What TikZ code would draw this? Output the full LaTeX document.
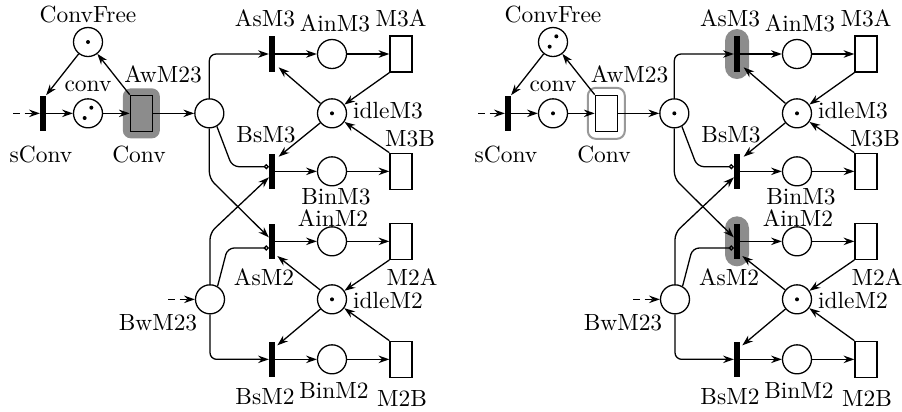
\documentclass[tikz,border=0pt]{standalone}
\usepackage{tikz}
\usetikzlibrary{arrows.meta,positioning,calc}

\begin{document}
\begin{tikzpicture}[
  place/.style={draw=black, circle, minimum size=4.35mm, inner sep=0pt, line width=0.55pt},
  tbar/.style={fill=black, rectangle, minimum width=0.8mm, minimum height=5.3mm, inner sep=0pt},
  tbox/.style={draw=black, rectangle, minimum width=3.3mm, minimum height=5.4mm,
    inner sep=0pt, line width=0.55pt},
  tok1/.style={path picture={\fill (path picture bounding box.center) circle (0.3mm);}},
  tok2/.style={path picture={
    \fill ($(path picture bounding box.center)+(0.05,0.085)$) circle (0.3mm);
    \fill ($(path picture bounding box.center)+(-0.05,-0.07)$) circle (0.3mm);}},
  lbl/.style={inner sep=0pt},
  flow/.style={-{Stealth[length=4.6pt,width=3.2pt]}, line width=0.55pt},
  feed/.style={-{Stealth[length=4.6pt,width=3.2pt]}, line width=0.55pt, densely dashed},
  inh/.style={-{Circle[open,length=2.2pt]}, line width=0.55pt},
  hlfill/.style={fill=black!45, rounded corners=1.2mm, inner sep=0pt},
  hlpill/.style={fill=black!45, rounded corners=1.8mm, inner sep=0pt,
    minimum width=3.6mm, minimum height=7.5mm},
  hlline/.style={draw=black!40, line width=0.85pt, rounded corners=1.2mm, inner sep=0pt},
]
\useasboundingbox (0,0) rectangle (13.53,-6.165);

%==================== KIRI: KONVEYOR ====================
\node[place, tok1] (ConvFree) at (1.32,-0.63) {};
\node[place, tok2] (conv) at (1.32,-1.70) {};
\node[tbar] (sConv) at (0.645,-1.70) {};
\node[hlfill, minimum width=5.55mm, minimum height=7.5mm] (hlConv) at (2.12,-1.70) {};
\node[tbox] (Conv) at (2.12,-1.70) {};
\node[place] (AwM23) at (3.14,-1.70) {};
\coordinate (inConv) at (0.195,-1.70);

%==================== KIRI: MESIN M3 ====================
\node[tbar] (AsM3) at (4.08,-0.81) {};
\node[place] (AinM3) at (4.98,-0.81) {};
\node[tbox] (M3A) at (6.015,-0.81) {};
\node[place, tok1] (idleM3) at (4.98,-1.70) {};
\node[tbar] (BsM3) at (4.08,-2.57) {};
\node[place] (BinM3) at (4.98,-2.57) {};
\node[tbox] (M3B) at (6.015,-2.57) {};

%==================== KIRI: MESIN M2 ====================
\node[tbar] (AsM2) at (4.08,-3.62) {};
\node[place] (AinM2) at (4.98,-3.62) {};
\node[tbox] (M2A) at (6.015,-3.62) {};
\node[place, tok1] (idleM2) at (4.98,-4.49) {};
\node[tbar] (BsM2) at (4.08,-5.39) {};
\node[place] (BinM2) at (4.98,-5.39) {};
\node[tbox] (M2B) at (6.015,-5.39) {};
\node[place] (BwM23) at (3.15,-4.49) {};
\coordinate (inB) at (2.52,-4.49);

%==================== KIRI: LABEL ====================
\node[lbl] (lConvFree) at (1.32,-0.22) {ConvFree};
\node[lbl] (lconv) at (1.32,-1.29) {conv};
\node[lbl] (lsConv) at (0.615,-2.31) {sConv};
\node[lbl] (lConv) at (2.085,-2.31) {Conv};
\node[lbl] (lAwM23) at (2.445,-1.11) {AwM23};
\node[lbl] (lAsM3) at (3.975,-0.27) {AsM3};
\node[lbl] (lAinM3) at (5.025,-0.345) {AinM3};
\node[lbl] (lM3A) at (6.015,-0.27) {M3A};
\node[lbl] (lidleM3) at (5.82,-1.665) {idleM3};
\node[lbl] (lBsM3) at (3.99,-2.025) {BsM3};
\node[lbl] (lM3B) at (6.15,-2.085) {M3B};
\node[lbl] (lBinM3) at (5.04,-2.955) {BinM3};
\node[lbl] (lAinM2) at (4.995,-3.27) {AinM2};
\node[lbl] (lAsM2) at (3.96,-4.155) {AsM2};
\node[lbl] (lM2A) at (6.18,-4.155) {M2A};
\node[lbl] (lidleM2) at (5.82,-4.50) {idleM2};
\node[lbl] (lBwM23) at (2.37,-4.845) {BwM23};
\node[lbl] (lBsM2) at (3.975,-5.955) {BsM2};
\node[lbl] (lBinM2) at (5.01,-5.85) {BinM2};
\node[lbl] (lM2B) at (6.03,-5.97) {M2B};

%==================== KIRI: BUSUR ====================
\draw[feed] (inConv) -- (sConv);
\draw[flow] (sConv) -- (conv);
\draw[flow] (conv) -- (Conv);
\draw[flow] (Conv) -- (AwM23);
\draw[flow] (Conv.north west) -- (ConvFree);
\draw[flow] (ConvFree) -- (sConv.north east);

\draw[flow, rounded corners=1mm] (AwM23.north) |- (AsM3.west);
\draw[inh, rounded corners=1mm] (AwM23.-60) -- ($(BsM3.west)+(-0.55,0.07)$)
  -- ($(BsM3.west)+(0,0.07)$);
\draw[flow, rounded corners=1mm] (AwM23.south) -- ($(AwM23.south)+(0,-0.75)$)
  -- ($(AsM2.west)+(0,0.06)$);
\draw[flow, rounded corners=1mm] (BwM23.north) -- ($(BwM23.north)+(0,0.77)$)
  -- ($(BsM3.west)+(0,-0.09)$);
\draw[inh, rounded corners=1mm] (BwM23.60) -- ($(AsM2.west)+(-0.62,-0.10)$)
  -- ($(AsM2.west)+(0,-0.10)$);
\draw[flow, rounded corners=1mm] (BwM23.south) |- (BsM2.west);
\draw[feed] (inB) -- (BwM23);

\draw[flow] (AsM3) -- (AinM3);
\draw[flow] (AinM3) -- (M3A);
\draw[flow] (M3A.south west) -- (idleM3);
\draw[flow] (idleM3) -- ($(AsM3)+(0.1,-0.2)$);
\draw[flow] (idleM3) -- ($(BsM3)+(0.1,0.22)$);
\draw[flow] (M3B.north west) -- (idleM3);
\draw[flow] (BsM3) -- (BinM3);
\draw[flow] (BinM3) -- (M3B);

\draw[flow] (AsM2) -- (AinM2);
\draw[flow] (AinM2) -- (M2A);
\draw[flow] (M2A.south west) -- (idleM2);
\draw[flow] (idleM2) -- ($(AsM2)+(0.08,-0.22)$);
\draw[flow] (idleM2) -- ($(BsM2)+(0.08,0.21)$);
\draw[flow] (M2B.north west) -- (idleM2);
\draw[flow] (BsM2) -- (BinM2);
\draw[flow] (BinM2) -- (M2B);

%==================== KANAN: marking sesudah ====================
\begin{scope}[xshift=6.975cm, name prefix=r-]
\node[place, tok2] (ConvFree) at (1.32,-0.63) {};
\node[place, tok1] (conv) at (1.32,-1.70) {};
\node[tbar] (sConv) at (0.645,-1.70) {};
\node[hlline, minimum width=5.55mm, minimum height=7.65mm] (hlConv) at (2.12,-1.70) {};
\node[tbox] (Conv) at (2.12,-1.70) {};
\node[place, tok1] (AwM23) at (3.14,-1.70) {};
\coordinate (inConv) at (0.195,-1.70);

\node[hlpill] (hlAsM3) at (4.08,-0.81) {};
\node[tbar] (AsM3) at (4.08,-0.81) {};
\node[place] (AinM3) at (4.98,-0.81) {};
\node[tbox] (M3A) at (6.015,-0.81) {};
\node[place, tok1] (idleM3) at (4.98,-1.70) {};
\node[tbar] (BsM3) at (4.08,-2.57) {};
\node[place] (BinM3) at (4.98,-2.57) {};
\node[tbox] (M3B) at (6.015,-2.57) {};

\node[hlpill] (hlAsM2) at (4.08,-3.62) {};
\node[tbar] (AsM2) at (4.08,-3.62) {};
\node[place] (AinM2) at (4.98,-3.62) {};
\node[tbox] (M2A) at (6.015,-3.62) {};
\node[place, tok1] (idleM2) at (4.98,-4.49) {};
\node[tbar] (BsM2) at (4.08,-5.39) {};
\node[place] (BinM2) at (4.98,-5.39) {};
\node[tbox] (M2B) at (6.015,-5.39) {};
\node[place] (BwM23) at (3.15,-4.49) {};
\coordinate (inB) at (2.52,-4.49);

\node[lbl] (lConvFree) at (1.32,-0.22) {ConvFree};
\node[lbl] (lconv) at (1.32,-1.29) {conv};
\node[lbl] (lsConv) at (0.615,-2.31) {sConv};
\node[lbl] (lConv) at (2.085,-2.31) {Conv};
\node[lbl] (lAwM23) at (2.47,-1.11) {AwM23};
\node[lbl] (lAsM3) at (3.975,-0.27) {AsM3};
\node[lbl] (lAinM3) at (5.025,-0.345) {AinM3};
\node[lbl] (lM3A) at (6.015,-0.27) {M3A};
\node[lbl] (lidleM3) at (5.82,-1.665) {idleM3};
\node[lbl] (lBsM3) at (3.99,-2.025) {BsM3};
\node[lbl] (lM3B) at (6.15,-2.085) {M3B};
\node[lbl] (lBinM3) at (5.04,-2.955) {BinM3};
\node[lbl] (lAinM2) at (4.995,-3.27) {AinM2};
\node[lbl] (lAsM2) at (3.96,-4.155) {AsM2};
\node[lbl] (lM2A) at (6.18,-4.155) {M2A};
\node[lbl] (lidleM2) at (5.82,-4.50) {idleM2};
\node[lbl] (lBwM23) at (2.37,-4.845) {BwM23};
\node[lbl] (lBsM2) at (3.975,-5.955) {BsM2};
\node[lbl] (lBinM2) at (5.01,-5.85) {BinM2};
\node[lbl] (lM2B) at (6.03,-5.97) {M2B};

\draw[feed] (inConv) -- (sConv);
\draw[flow] (sConv) -- (conv);
\draw[flow] (conv) -- (Conv);
\draw[flow] (Conv) -- (AwM23);
\draw[flow] (Conv.north west) -- (ConvFree);
\draw[flow] (ConvFree) -- (sConv.north east);

\draw[flow, rounded corners=1mm] (AwM23.north) |- (AsM3.west);
\draw[inh, rounded corners=1mm] (AwM23.-60) -- ($(BsM3.west)+(-0.55,0.07)$)
  -- ($(BsM3.west)+(0,0.07)$);
\draw[flow, rounded corners=1mm] (AwM23.south) -- ($(AwM23.south)+(0,-0.75)$)
  -- ($(AsM2.west)+(0,0.06)$);
\draw[flow, rounded corners=1mm] (BwM23.north) -- ($(BwM23.north)+(0,0.77)$)
  -- ($(BsM3.west)+(0,-0.09)$);
\draw[inh, rounded corners=1mm] (BwM23.60) -- ($(AsM2.west)+(-0.62,-0.10)$)
  -- ($(AsM2.west)+(0,-0.10)$);
\draw[flow, rounded corners=1mm] (BwM23.south) |- (BsM2.west);
\draw[feed] (inB) -- (BwM23);

\draw[flow] (AsM3) -- (AinM3);
\draw[flow] (AinM3) -- (M3A);
\draw[flow] (M3A.south west) -- (idleM3);
\draw[flow] (idleM3) -- ($(AsM3)+(0.1,-0.2)$);
\draw[flow] (idleM3) -- ($(BsM3)+(0.1,0.22)$);
\draw[flow] (M3B.north west) -- (idleM3);
\draw[flow] (BsM3) -- (BinM3);
\draw[flow] (BinM3) -- (M3B);

\draw[flow] (AsM2) -- (AinM2);
\draw[flow] (AinM2) -- (M2A);
\draw[flow] (M2A.south west) -- (idleM2);
\draw[flow] (idleM2) -- ($(AsM2)+(0.08,-0.22)$);
\draw[flow] (idleM2) -- ($(BsM2)+(0.08,0.21)$);
\draw[flow] (M2B.north west) -- (idleM2);
\draw[flow] (BsM2) -- (BinM2);
\draw[flow] (BinM2) -- (M2B);
\end{scope}

\end{tikzpicture}
\end{document}
